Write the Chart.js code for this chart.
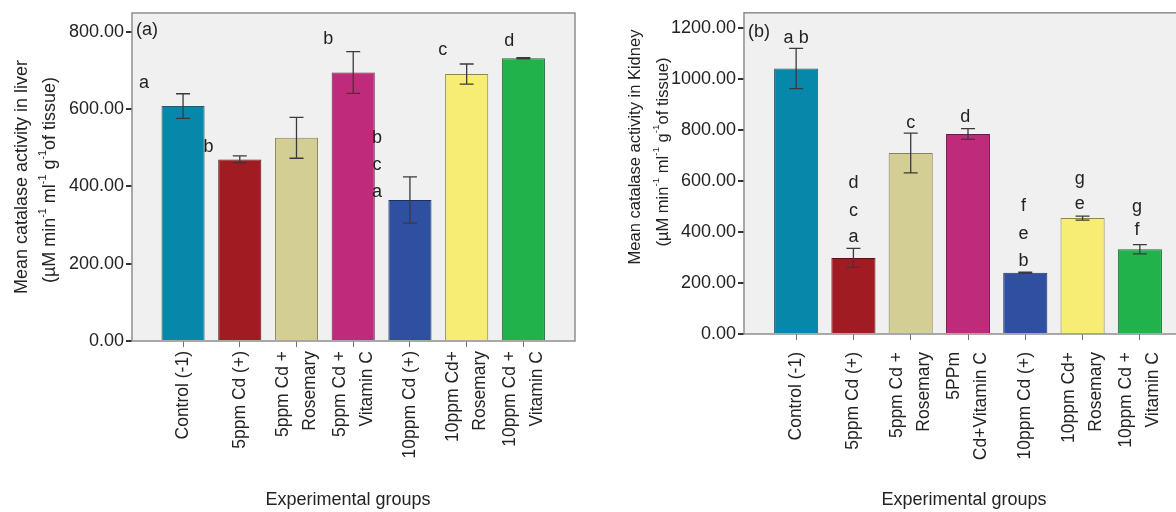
<!DOCTYPE html>
<html>
<head>
<meta charset="utf-8">
<script src="https://cdn.jsdelivr.net/npm/chart.js@4.4.0/dist/chart.umd.min.js"></script>
<style>
  html, body { margin: 0; padding: 0; background: #fff; overflow: hidden; width: 1176px; height: 512px; }
  #wrapA { position: absolute; left: 0; top: 0; width: 600px; height: 512px; }
  #wrapB { position: absolute; left: 600px; top: 0; width: 620px; height: 512px; }
</style>
</head>
<body>
<div id="wrapA"><canvas id="liver" width="600" height="512"></canvas></div>
<div id="wrapB"><canvas id="kidney" width="620" height="512"></canvas></div>
<script>
// ---- data ----
const groupsLiver = [
  ['Control (-1)'], ['5ppm Cd (+)'], ['5ppm Cd +', 'Rosemary'], ['5ppm Cd +', 'Vitamin C'],
  ['10ppm Cd (+)'], ['10ppm Cd+', 'Rosemary'], ['10ppm Cd +', 'Vitamin C']
];
const groupsKidney = [
  ['Control (-1)'], ['5ppm Cd (+)'], ['5ppm Cd +', 'Rosemary'], ['5PPm', 'Cd+Vitamin C'],
  ['10ppm Cd (+)'], ['10ppm Cd+', 'Rosemary'], ['10ppm Cd +', 'Vitamin C']
];

const meanLiver = [608, 470, 526, 695, 365, 691, 732];
const errLiver  = [32, 9, 53, 54, 60, 26, 1.5];
const meanKidney = [1040, 298, 709, 783, 240, 454, 332];
const errKidney  = [79, 37, 78, 21, 2, 8, 18];

const yTicksLiver = [0, 200, 400, 600, 800];
const yTicksKidney = [0, 200, 400, 600, 800, 1000, 1200];

// significance letters, stacked top to bottom, with the value level each sits at
const lettersLiver = [['a'], ['b'], [], ['b'], ['b', 'c', 'a'], ['c'], ['d']];
const letterLevelLiver = [[668], [502], [], [782], [526, 456, 386], [753], [777]];
const letterShiftLiver = [-0.69, -0.55, 0, -0.44, -0.58, -0.42, -0.25];

const lettersKidney = [['a b'], ['d', 'c', 'a'], ['c'], ['d'], ['f', 'e', 'b'], ['g', 'e'], ['g', 'f']];
const letterLevelKidney = [[1161], [590, 481, 379], [825], [848], [500, 391, 285], [606, 508], [496, 407]];
const letterShiftKidney = [0, 0, 0, -0.05, -0.03, -0.05, -0.05];

const barFills = ['#0688AA', '#A11B22', '#D3CE94', '#BE2B7B', '#2F50A0', '#F7EC74', '#22B24C'];
const barEdges = ['#2a5868', '#5e1014', '#86825a', '#6e1a48', '#1c305e', '#8e8844', '#1a6a32'];

const FONT = "'Liberation Sans', Arial, Helvetica, sans-serif";
const INK = '#232323';

// draws a line of text with raised "-1" exponents, centred on (0,0) in the current frame
function drawRich(ctx, parts, size) {
  const supSize = size * 0.6;
  let w = 0;
  parts.forEach(p => {
    ctx.font = (p.sup ? supSize : size) + 'px ' + FONT;
    p.w = ctx.measureText(p.t).width;
    w += p.w;
  });
  let xx = -w / 2;
  ctx.textAlign = 'left';
  ctx.textBaseline = 'middle';
  parts.forEach(p => {
    ctx.font = (p.sup ? supSize : size) + 'px ' + FONT;
    ctx.fillText(p.t, xx, p.sup ? -size * 0.38 : 0);
    xx += p.w;
  });
}

function panelPlugin(cfg) {
  return {
    id: 'panel_' + cfg.tag,
    beforeDraw(chart) {
      const { ctx, chartArea: a } = chart;
      ctx.save();
      ctx.fillStyle = '#f0f0f0';
      ctx.fillRect(a.left, a.top, a.right - a.left, a.bottom - a.top);
      ctx.restore();
    },
    afterDatasetsDraw(chart) {
      const { ctx, chartArea: a, scales: { x, y } } = chart;
      ctx.save();

      // plot frame
      ctx.strokeStyle = '#8e8e8e';
      ctx.lineWidth = 1.5;
      ctx.strokeRect(a.left, a.top, a.right - a.left, a.bottom - a.top);

      // error bars
      ctx.strokeStyle = '#3a3a3a';
      ctx.lineWidth = 1.3;
      cfg.mean.forEach((m, i) => {
        const px = x.getPixelForValue(i);
        const t = y.getPixelForValue(m + cfg.err[i]);
        const b = y.getPixelForValue(m - cfg.err[i]);
        ctx.beginPath();
        ctx.moveTo(px, t); ctx.lineTo(px, b);
        ctx.moveTo(px - 7, t); ctx.lineTo(px + 7, t);
        ctx.moveTo(px - 7, b); ctx.lineTo(px + 7, b);
        ctx.stroke();
      });

      // significance letters
      ctx.fillStyle = INK;
      ctx.font = '18px ' + FONT;
      ctx.textAlign = 'center';
      ctx.textBaseline = 'middle';
      cfg.letters.forEach((stack, i) => {
        stack.forEach((txt, j) => {
          ctx.fillText(txt, x.getPixelForValue(i + cfg.shift[i]), y.getPixelForValue(cfg.levels[i][j]));
        });
      });

      // panel tag
      ctx.textAlign = 'left';
      ctx.fillText(cfg.tag, a.left + 4, cfg.tagY);

      // category labels, rotated, lines side by side around the tick
      ctx.font = '17.5px ' + FONT;
      cfg.groups.forEach((lines, i) => {
        const px = x.getPixelForValue(i);
        lines.forEach((ln, j) => {
          const cx = px + (j - (lines.length - 1) / 2) * 27;
          ctx.save();
          ctx.translate(cx, a.bottom + cfg.labelGap);
          ctx.rotate(-Math.PI / 2);
          ctx.textAlign = 'right';
          ctx.textBaseline = 'middle';
          ctx.fillText(ln, 0, 0);
          ctx.restore();
        });
      });

      // x axis title
      ctx.font = '18px ' + FONT;
      ctx.textAlign = 'center';
      ctx.fillText('Experimental groups', cfg.xTitleX, 500);

      // y axis title, two lines
      const sup = [
        { t: '(\u00b5M min' }, { t: '-1', sup: true }, { t: ' ml' }, { t: '-1', sup: true },
        { t: ' g' }, { t: '-1', sup: true }, { t: 'of tissue)' }
      ];
      ctx.save();
      ctx.translate(cfg.yTitle[0], cfg.yTitle[1]);
      ctx.rotate(-Math.PI / 2);
      drawRich(ctx, [{ t: cfg.yText }], cfg.yTitleSize);
      ctx.restore();
      ctx.save();
      ctx.translate(cfg.yTitle[2], cfg.yTitle[3]);
      ctx.rotate(-Math.PI / 2);
      drawRich(ctx, sup, cfg.yTitleSize);
      ctx.restore();

      ctx.restore();
    }
  };
}

function buildChart(el, cfg) {
  return new Chart(el, {
    type: 'bar',
    data: {
      datasets: [{
        data: cfg.mean.map((v, i) => ({ x: i, y: v })),
        backgroundColor: barFills,
        borderColor: barEdges,
        borderWidth: 1,
        barPercentage: cfg.barPct,
        categoryPercentage: 1
      }]
    },
    options: {
      responsive: false,
      animation: false,
      devicePixelRatio: 1,
      layout: { padding: { left: 0, top: cfg.padTop, right: cfg.padRight, bottom: 0 } },
      plugins: { legend: { display: false }, tooltip: { enabled: false } },
      scales: {
        x: {
          type: 'linear',
          min: cfg.xMin, max: cfg.xMax,
          offset: false,
          afterBuildTicks: s => { s.ticks = cfg.groups.map((_, i) => ({ value: i })); },
          ticks: { display: false },
          grid: { display: true, offset: false, drawOnChartArea: false, drawTicks: true, tickLength: 6, color: '#707070', lineWidth: 1 },
          border: { display: false },
          afterFit: s => { s.height = cfg.xAxisH; }
        },
        y: {
          min: 0, max: cfg.yMax,
          afterBuildTicks: s => { s.ticks = cfg.yTicks.map(v => ({ value: v })); },
          ticks: {
            callback: v => Number(v).toFixed(2),
            font: { size: 18, family: FONT },
            color: INK,
            padding: 2
          },
          grid: { display: true, drawOnChartArea: false, drawTicks: true, tickLength: 6, color: '#333', lineWidth: 2 },
          border: { display: false },
          afterFit: s => { s.width = cfg.yAxisW; }
        }
      }
    },
    plugins: [panelPlugin(cfg)]
  });
}

buildChart(document.getElementById('liver'), {
  tag: '(a)', tagY: 30,
  groups: groupsLiver, mean: meanLiver, err: errLiver,
  letters: lettersLiver, levels: letterLevelLiver, shift: letterShiftLiver,
  yTicks: yTicksLiver, yMax: 849,
  xMin: -0.9, xMax: 6.91, barPct: 0.76,
  padTop: 13, padRight: 25, yAxisW: 132, xAxisH: 171,
  labelGap: 10, xTitleX: 348,
  yText: 'Mean catalase activity in liver', yTitleSize: 18,
  yTitle: [22, 177, 50, 180]
});

buildChart(document.getElementById('kidney'), {
  tag: '(b)', tagY: 32,
  groups: groupsKidney, mean: meanKidney, err: errKidney,
  letters: lettersKidney, levels: letterLevelKidney, shift: letterShiftKidney,
  yTicks: yTicksKidney, yMax: 1258,
  xMin: -0.91, xMax: 6.91, barPct: 0.77,
  padTop: 12, padRight: 28, yAxisW: 144, xAxisH: 178,
  labelGap: 18, xTitleX: 364,
  yText: 'Mean catalase activity in Kidney', yTitleSize: 16.5,
  yTitle: [35, 147, 63, 152]
});
</script>
</body>
</html>
